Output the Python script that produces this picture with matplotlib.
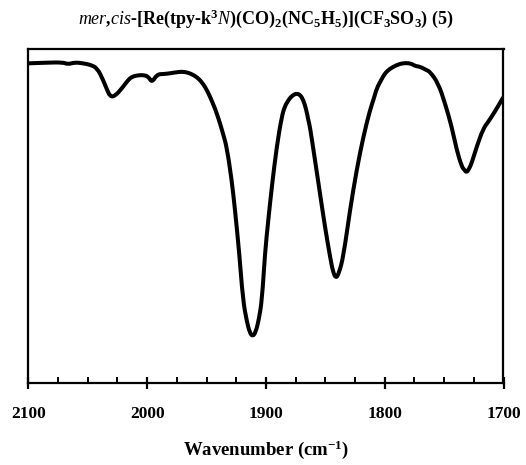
import matplotlib
matplotlib.use("Agg")
import matplotlib.pyplot as plt
from matplotlib.path import Path
from matplotlib.patches import PathPatch

plt.rcParams['font.family'] = ['Liberation Serif', 'DejaVu Serif']
plt.rcParams['mathtext.fontset'] = 'custom'
plt.rcParams['mathtext.rm'] = 'Liberation Serif:bold'
plt.rcParams['mathtext.bf'] = 'Liberation Serif:bold'
plt.rcParams['mathtext.it'] = 'Liberation Serif:italic'

title = r"$\mathit{mer}$,$\mathit{cis}$-[Re(tpy-k$^{3}$$\mathit{N}$)(CO)$_{2}$(NC$_{5}$H$_{5}$)](CF$_{3}$SO$_{3}$) (5)"
xlabel = r"Wavenumber (cm$^{-1}$)"
xticks = [2100, 2000, 1900, 1800, 1700]
minor_xticks = [2075, 2050, 2025, 1975, 1950, 1925, 1875, 1850, 1825, 1775, 1750, 1725]

wavenumber = [2100, 2085, 2070.8, 2066.6, 2060.7, 2054, 2048, 2042, 2037, 2034,
              2031, 2027, 2021, 2016, 2012.7, 2008, 2003.5, 1999, 1995.9, 1991.7,
              1986, 1980.8, 1972.4, 1968, 1963.9, 1959.5, 1955.4, 1951, 1947, 1943,
              1941, 1938.6, 1936, 1933, 1928.8, 1926, 1922.4, 1919.3, 1916, 1913.5,
              1911.1, 1908.5, 1906, 1903.3, 1900.8, 1898, 1895, 1890.9, 1886.7, 1884,
              1881, 1879, 1877, 1874.1, 1871, 1868.5, 1866, 1864.3, 1862.9, 1858.7,
              1854.5, 1850.3, 1846, 1843.5, 1841, 1838.5, 1834.8, 1829.2, 1823.6, 1818,
              1812.4, 1809, 1806.7, 1803, 1799.8, 1796, 1790, 1784.3, 1778, 1774.5,
              1770.3, 1765, 1761.9, 1754.9, 1749.2, 1743.6, 1739.4, 1735.2, 1733, 1731,
              1729, 1726.8, 1722.6, 1717, 1712.8, 1707.3, 1701.6, 1700]
transmittance = [95.8, 96.0, 96.1, 95.5, 96.1, 95.8, 95.4, 94.4, 90.8, 88.1,
                 85.8, 86.0, 88.4, 90.8, 91.8, 92.2, 92.3, 91.9, 90.0, 92.5,
                 92.6, 92.8, 93.3, 93.2, 92.8, 92.0, 90.8, 88.7, 85.8, 82.4,
                 80.4, 77.8, 74.6, 70.8, 60.9, 51.9, 38.9, 24.9, 18.4, 15.1,
                 14.0, 15.4, 19.0, 24.9, 38.9, 48.9, 58.9, 70.8, 79.8, 83.0,
                 84.8, 85.7, 86.3, 86.8, 86.3, 84.8, 81.9, 78.8, 76.8, 66.9,
                 56.9, 46.9, 37.9, 33.3, 31.4, 33.0, 37.9, 51.9, 63.9, 73.8,
                 81.8, 85.4, 88.3, 90.8, 92.8, 94.1, 95.3, 95.9, 95.8, 95.0,
                 94.8, 93.8, 93.3, 89.8, 83.8, 76.8, 69.9, 64.9, 63.9, 63.1,
                 64.2, 65.9, 70.8, 76.3, 78.3, 81.3, 84.8, 85.7]

fig = plt.figure(figsize=(5.26, 4.65), dpi=100)
ax = fig.add_axes([28.3/526, 1 - 383.3/465, (503.5-28.3)/526, (383.3-49.3)/465])

# Smooth rendering of the read points: quadratic Bezier segments using the
# read points as control points (curve passes through segment midpoints).
pts = list(zip(wavenumber, transmittance))
verts = [pts[0]]
codes = [Path.MOVETO]
for i in range(1, len(pts) - 1):
    mid = ((pts[i][0] + pts[i + 1][0]) / 2, (pts[i][1] + pts[i + 1][1]) / 2)
    verts += [pts[i], mid]
    codes += [Path.CURVE3, Path.CURVE3]
verts.append(pts[-1])
codes.append(Path.LINETO)
ax.add_patch(PathPatch(Path(verts, codes), facecolor='none', edgecolor='black',
                       lw=2.9, joinstyle='round', capstyle='round',
                       transform=ax.transData))

ax.set_xlim(2100, 1700)
ax.set_ylim(0, 100)
ax.set_xticks(xticks)
ax.set_xticks(minor_xticks, minor=True)
ax.set_xticklabels([str(t) for t in xticks], fontweight='bold', fontsize=12.5)
ax.tick_params(axis='x', which='major', direction='inout', length=8, width=1.6, pad=12)
ax.tick_params(axis='x', which='minor', direction='in', length=4.5, width=1.4,
               color='black')
ax.set_yticks([])
for s in ax.spines.values():
    s.set_linewidth(1.6)

ax.set_xlabel(xlabel, fontweight='bold', fontsize=13.5, labelpad=12)
ax.set_title(title, fontweight='bold', fontsize=13, pad=18)

fig.savefig('out.png', dpi=100)
